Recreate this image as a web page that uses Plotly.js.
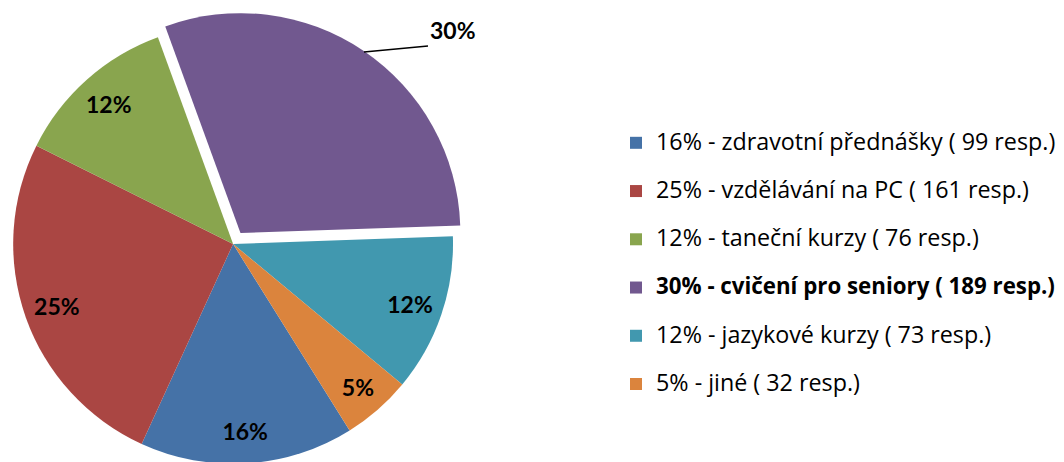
<!DOCTYPE html>
<html>
<head>
<meta charset="utf-8">
<script src="https://cdn.plot.ly/plotly-3.0.1.min.js"></script>
<style>
  html, body { margin: 0; padding: 0; overflow: hidden; background: #fff; }
  #chart { width: 1064px; height: 490px; }
</style>
</head>
<body>
<div id="chart"></div>
<script>
// Data
const categories = ['zdravotní přednášky', 'vzdělávání na PC', 'taneční kurzy', 'cvičení pro seniory', 'jazykové kurzy', 'jiné'];
const responses = [99, 161, 76, 189, 73, 32];
const percents = [16, 25, 12, 30, 12, 5];
const highlighted = [false, false, false, true, false, false];
const colors = ['#4572A7', '#AA4643', '#89A54E', '#71588F', '#4198AF', '#DB843D'];

const W = 1064, H = 490;

const legendLabels = categories.map((c, i) => {
  let t = percents[i] + '% - ' + c + ' ( ' + responses[i] + ' resp.)';
  if (highlighted[i]) return '<span style="font-size:22.3px"><b>' + t + '</b></span><br> ';
  return '<span style="font-size:23.3px">' + t + '</span><br> ';
});
const sliceText = percents.map((p, i) => highlighted[i] ? '' : '<b>' + p + '%</b>');
const pulls = highlighted.map(h => h ? 0.06 : 0);
const pieDomain = { x: [0, 466.2 / W], y: [(H - 477.2) / H, (H - 10.8) / H] };

// Coloured slices
const slices = {
  type: 'pie',
  labels: legendLabels,
  values: responses,
  textinfo: 'none',
  sort: false,
  direction: 'clockwise',
  rotation: 148,
  pull: pulls,
  marker: { colors: colors, line: { width: 0 } },
  domain: pieDomain,
  hoverinfo: 'none'
};

// Transparent ring carrying the percentage labels near the rim
const labelRing = {
  type: 'pie',
  labels: legendLabels,
  values: responses,
  text: sliceText,
  textinfo: 'text',
  textposition: 'inside',
  insidetextorientation: 'horizontal',
  textfont: { family: 'Lato', size: 23, color: '#000' },
  hole: 0.7,
  sort: false,
  direction: 'clockwise',
  rotation: 148,
  pull: pulls,
  marker: { colors: colors.map(() => 'rgba(0,0,0,0)'), line: { width: 0 } },
  domain: pieDomain,
  showlegend: false,
  hoverinfo: 'none'
};

const layout = {
  width: W,
  height: H,
  margin: { l: 0, r: 0, t: 0, b: 0 },
  paper_bgcolor: '#fff',
  showlegend: true,
  legend: {
    x: 616 / W, xanchor: 'left',
    y: (H - 125) / H, yanchor: 'top',
    valign: 'top',
    font: { family: 'Open Sans', size: 17.4, color: '#000' },
    bgcolor: 'rgba(0,0,0,0)'
  },
  annotations: [{
    xref: 'paper', yref: 'paper',
    x: 364 / W, y: (H - 52) / H,
    ax: 64, ay: -6,
    xanchor: 'left', yanchor: 'bottom',
    text: '<b>' + percents[3] + '%</b>',
    font: { family: 'Lato', size: 23, color: '#000' },
    showarrow: true, arrowhead: 0, arrowwidth: 1.5, arrowcolor: '#000',
    standoff: 0, startstandoff: 0
  }]
};

Plotly.newPlot('chart', [slices, labelRing], layout, { displayModeBar: false, staticPlot: true });
</script>
</body>
</html>
